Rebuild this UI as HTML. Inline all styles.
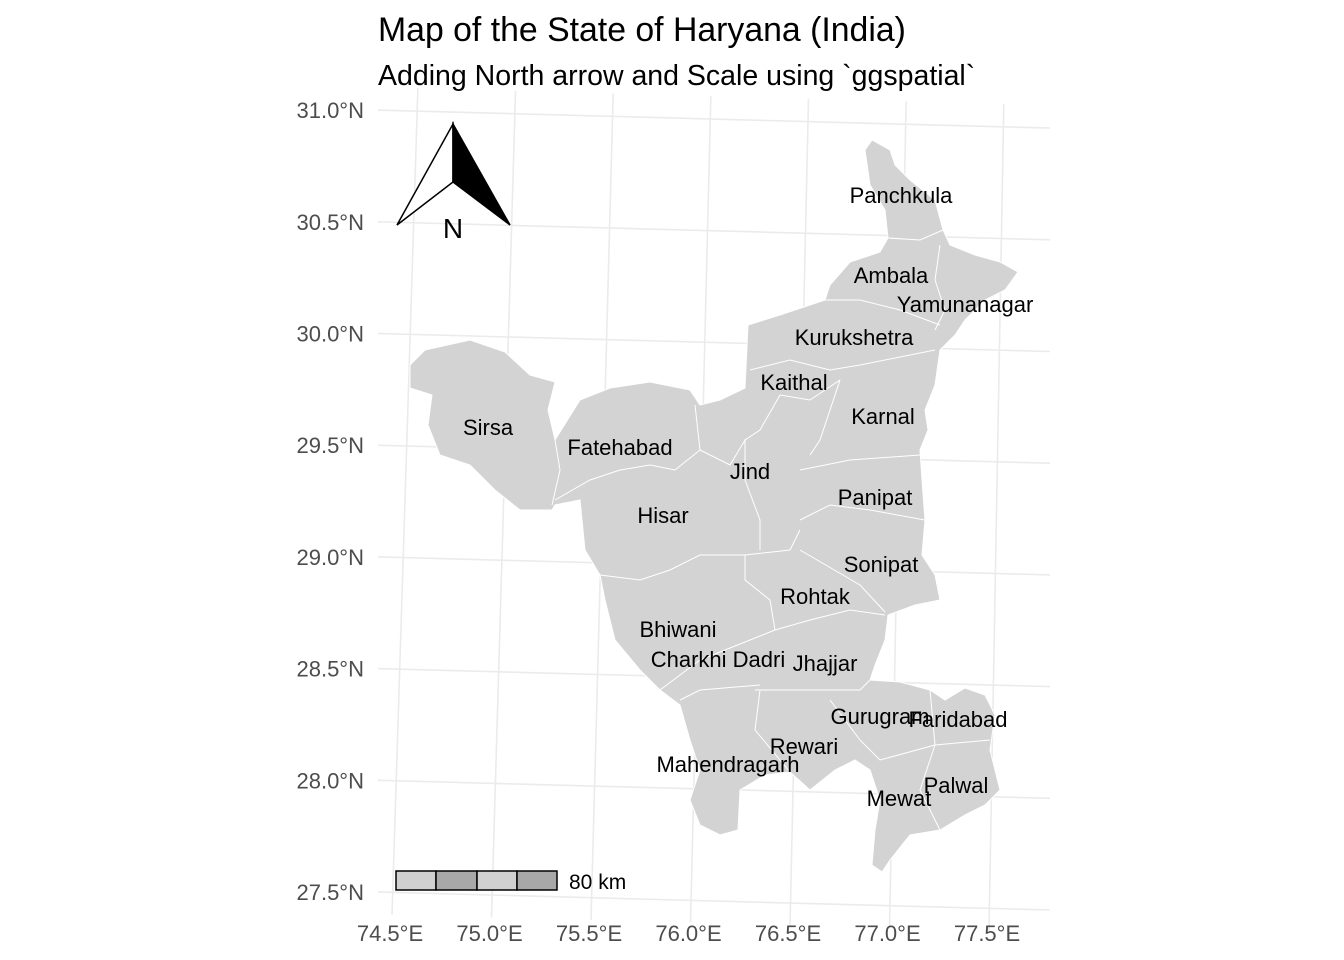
<!DOCTYPE html>
<html><head><meta charset="utf-8"><style>
body{margin:0;background:#fff}
svg{display:block;font-family:"Liberation Sans",Arial,sans-serif}
</style></head><body>
<svg id="c" width="1344" height="960" viewBox="0 0 1344 960">
<text x="378" y="41" font-size="33.8" fill="#000">Map of the State of Haryana (India)</text>
<text x="378" y="85" font-size="28.5" fill="#000">Adding North arrow and Scale using `ggspatial`</text>
<g id="grid"></g>
<g id="axes"></g>
<g id="map"></g>
<g id="labels"></g>
<g>
<polygon points="397,225 453,124 453,182" fill="#fff" stroke="#000" stroke-width="1.5"/>
<polygon points="453,124 510,225 453,182" fill="#000" stroke="#000" stroke-width="1.5"/>
<text x="453" y="238" font-size="28" text-anchor="middle">N</text>
</g>
<g>
<rect x="396" y="871" width="40" height="19" fill="#d0d0d0" stroke="#000" stroke-width="1.5"/>
<rect x="436" y="871" width="41" height="19" fill="#a8a8a8" stroke="#000" stroke-width="1.5"/>
<rect x="477" y="871" width="40" height="19" fill="#d0d0d0" stroke="#000" stroke-width="1.5"/>
<rect x="517" y="871" width="40" height="19" fill="#a8a8a8" stroke="#000" stroke-width="1.5"/>
<text x="569" y="889" font-size="21">80 km</text>
</g>
</svg>
<script>
const lonTicks=[74.5,75.0,75.5,76.0,76.5,77.0,77.5];
const lonLabels=["74.5°E","75.0°E","75.5°E","76.0°E","76.5°E","77.0°E","77.5°E"];
const latTicks=[27.5,28.0,28.5,29.0,29.5,30.0,30.5,31.0];
const latLabels=["27.5°N","28.0°N","28.5°N","29.0°N","29.5°N","30.0°N","30.5°N","31.0°N"];
const districtNames=["Panchkula","Ambala","Yamunanagar","Kurukshetra","Kaithal","Karnal","Sirsa","Fatehabad","Jind","Panipat","Hisar","Sonipat","Rohtak","Bhiwani","Charkhi Dadri","Jhajjar","Gurugram","Faridabad","Rewari","Mahendragarh","Palwal","Mewat"];
const labelX=[901,891,965,854,794,883,488,620,750,875,663,881,815,678,718,825,880,958,804,728,956,899];
const labelY=[195,275,304,337,382,416,427,447,471,497,515,564,596,629,659,663,716,719,746,764,785,798];
const NS="http://www.w3.org/2000/svg";
function mk(t,a,p){const e=document.createElementNS(NS,t);for(const k in a)e.setAttribute(k,a[k]);p.appendChild(e);return e;}
function px(lon,lat){return 392+(lon-74.5)*199+(lat-27.4)*(7-(lon-74.5));}
function py(lon,lat){return 892-(lat-27.5)*223.4+(lon-74.43)*5.3;}
const grid=document.getElementById('grid'),axes=document.getElementById('axes');
lonTicks.forEach((lon,i)=>{
 const l=mk('line',{x1:px(lon,27.4),y1:py(lon,27.4),x2:px(lon,31.1),y2:py(lon,31.1),stroke:'#ebebeb','stroke-width':1.6},grid);
 
 
 const t=mk('text',{x:px(lon,27.4)-2,y:941,'font-size':22,fill:'#4d4d4d','text-anchor':'middle'},axes);
 t.textContent=lonLabels[i];
 
 
});
latTicks.forEach((lat,i)=>{
 const l=mk('line',{x1:378,y1:py(74.43,lat),x2:1050,y2:py(74.43,lat)+18,stroke:'#ebebeb','stroke-width':1.6},grid);
 
 
 const t=mk('text',{x:364,y:py(74.43,lat)+8,'font-size':22,fill:'#4d4d4d','text-anchor':'end'},axes);
 t.textContent=latLabels[i];
 
 
});
const outline="872,140 890,150 895,165 910,180 935,200 943,230 950,245 975,255 1000,262 1018,272 1005,290 985,300 965,320 955,335 940,350 935,385 925,410 928,430 920,450 922,480 925,520 922,555 935,575 940,600 915,605 888,615 885,640 875,665 870,680 900,682 930,690 945,700 965,688 985,695 995,715 990,750 1000,790 985,805 965,815 940,830 910,835 890,860 882,872 872,865 875,830 880,800 870,770 855,760 835,770 810,790 790,772 765,775 740,790 738,830 720,835 700,825 690,800 700,770 690,740 680,705 660,690 640,670 615,640 605,600 600,575 585,550 580,500 555,505 552,510 520,510 495,490 470,465 440,455 428,425 432,395 410,388 410,365 425,350 470,340 505,352 530,375 555,382 548,410 555,440 580,400 610,388 650,382 690,390 700,405 720,400 745,388 748,325 780,315 810,305 825,300 830,285 850,262 880,252 888,238 885,210 870,185 865,150";
const map=document.getElementById('map');
const poly=mk('polygon',{points:outline,fill:'#d3d3d3',stroke:'#fff','stroke-width':1},map);


const borders=["555,440 560,470 552,505","555,500 590,480 620,470 650,465 675,470 700,450","695,405 700,450","700,450 730,465 745,440 745,480 760,520 760,550","745,440 760,430 780,395 810,400 840,380","840,380 820,440 810,455","800,470 850,460 920,455","800,520 830,505 870,510 925,520","745,555 790,550 800,530","600,575 640,580 670,570 700,555 745,555","800,550 860,585 885,612","745,555 745,580 770,600 775,630","775,630 810,620 850,610 885,615","660,690 700,660 750,640 775,630","680,700 700,690 760,685","755,690 800,690 860,690 870,680","750,370 790,360 830,370 860,365 935,350","825,300 860,300 900,310 940,325","888,238 920,240 943,230","940,245 935,280 945,310 935,330","930,690 935,745","935,745 990,740","860,740 880,760 935,745","935,745 920,790 940,830","760,690 755,730 790,772","830,700 860,740"];
borders.forEach(b=>{
 const p=mk('polyline',{points:b,fill:'none',stroke:'#fff','stroke-width':1},map);
 
 
});
const lab=document.getElementById('labels');
districtNames.forEach((n,i)=>{
 const t=mk('text',{x:labelX[i],y:labelY[i]+8,'font-size':22,'text-anchor':'middle',fill:'#000'},lab);
 t.textContent=n;
 
 
});
</script>
</body></html>
